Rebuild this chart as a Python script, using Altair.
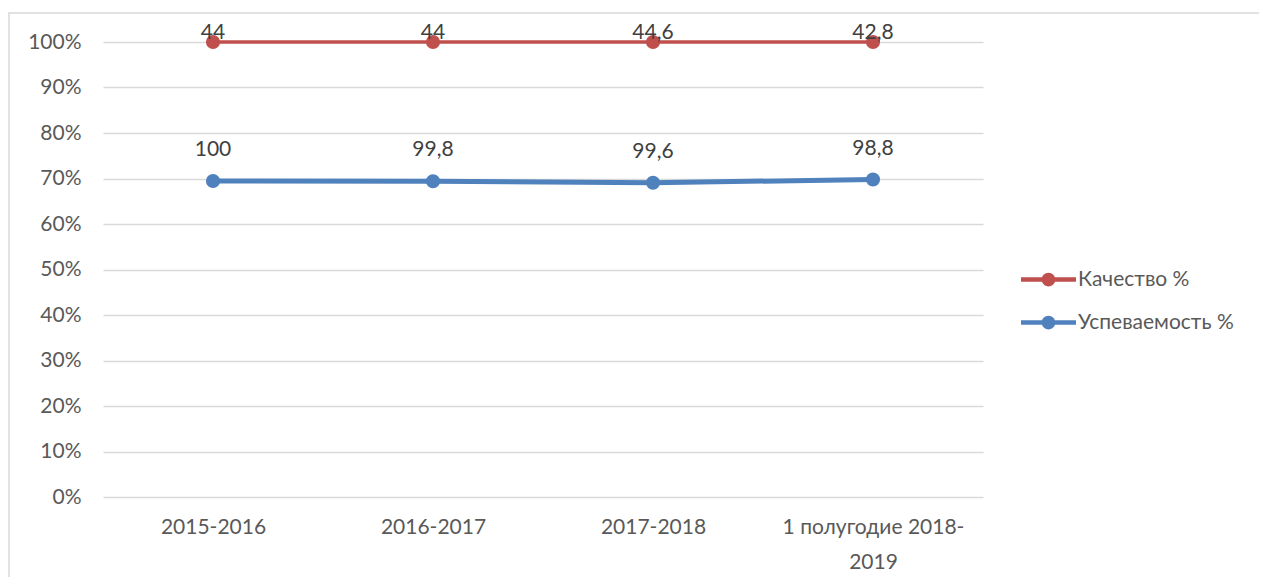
import altair as alt
import pandas as pd

years = ["2015-2016", "2016-2017", "2017-2018", "1 полугодие 2018-2019"]
quality = [44, 44, 44.6, 42.8]
progress = [100, 99.8, 99.6, 98.8]
series_names = ["Качество %", "Успеваемость %"]
stack_order = {"Успеваемость %": 0, "Качество %": 1}

rows = []
for i, y in enumerate(years):
    rows.append({"year": y, "series": series_names[0], "value": quality[i], "ord": stack_order[series_names[0]]})
    rows.append({"year": y, "series": series_names[1], "value": progress[i], "ord": stack_order[series_names[1]]})
df = pd.DataFrame(rows)

FONT = "Lato"
FS = 21
colors = ["#C0504D", "#4F81BD"]

base = alt.Chart(df).transform_stack(
    stack="value", groupby=["year"], as_=["y0", "y1"], offset="normalize",
    sort=[alt.SortField("ord", order="ascending")]
).transform_calculate(label="replace(format(datum.value, '.1~f'), '.', ',')")

x_enc = alt.X("year:N", sort=years, scale=alt.Scale(type="point", padding=0.5),
              axis=alt.Axis(title=None, labelAngle=0, ticks=False, domain=False, grid=False,
                            labelFont=FONT, labelFontSize=FS, labelColor="#595959",
                            labelPadding=19, labelBaseline="top", labelLineHeight=35, labelLimit=400,
                            labelExpr="datum.label == '1 полугодие 2018-2019' ? ['1 полугодие 2018-', '2019'] : datum.label"))
y_enc = alt.Y("y1:Q", scale=alt.Scale(domain=[0, 1]),
              axis=alt.Axis(title=None, format=".0%", values=[i / 10 for i in range(11)],
                            ticks=False, domain=False, grid=True, gridColor="#D9D9D9", gridWidth=1.5,
                            labelFont=FONT, labelFontSize=FS, labelColor="#595959", labelPadding=22))
color_enc = alt.Color("series:N", scale=alt.Scale(domain=series_names, range=colors),
                      legend=alt.Legend(title=None, orient="none", legendX=918, legendY=210,
                                        labelFont=FONT, labelFontSize=FS, labelColor="#595959",
                                        symbolType="M -1 -0.08 H 1 V 0.08 H -1 Z M -0.25 0 A 0.25 0.25 0 1 1 0.25 0 A 0.25 0.25 0 1 1 -0.25 0 Z",
                                        symbolSize=3025, symbolStrokeWidth=0, labelOffset=2,
                                        rowPadding=5, symbolOpacity=1))

red_line = base.transform_filter(alt.datum.series == series_names[0]).mark_line(
    strokeWidth=3.5, color=colors[0]).encode(x=x_enc, y=y_enc)
blue_line = base.transform_filter(alt.datum.series == series_names[1]).mark_line(
    strokeWidth=5, color=colors[1]).encode(x=x_enc, y=y_enc)
points = base.mark_point(filled=True, size=200, opacity=1).encode(x=x_enc, y=y_enc, color=color_enc)

red_text = base.transform_filter(alt.datum.series == series_names[0]).mark_text(
    font=FONT, fontSize=FS, color="#404040", baseline="middle", dy=-9).encode(
    x=x_enc, y=y_enc, text="label:N")
blue_text = base.transform_filter(alt.datum.series == series_names[1]).mark_text(
    font=FONT, fontSize=FS, color="#404040", baseline="middle", dy=-31).encode(
    x=x_enc, y=y_enc, text="label:N")

border = alt.Chart(pd.DataFrame({"a": [0]})).mark_rect(
    fill=None, stroke="#D9D9D9", strokeWidth=1.5, clip=False).encode(
    x=alt.value(-94), x2=alt.value(1400), y=alt.value(-29), y2=alt.value(600))

chart = alt.layer(border, blue_line, red_line, points, blue_text, red_text).properties(
    width=880, height=455,
    autosize=alt.AutoSizeParams(type="none"),
    padding={"left": 95, "top": 34, "right": 276, "bottom": 80},
).configure(background="white").configure_view(strokeOpacity=0, strokeWidth=0)

chart.save("out.html", embed_options={"renderer": "svg", "actions": False})
